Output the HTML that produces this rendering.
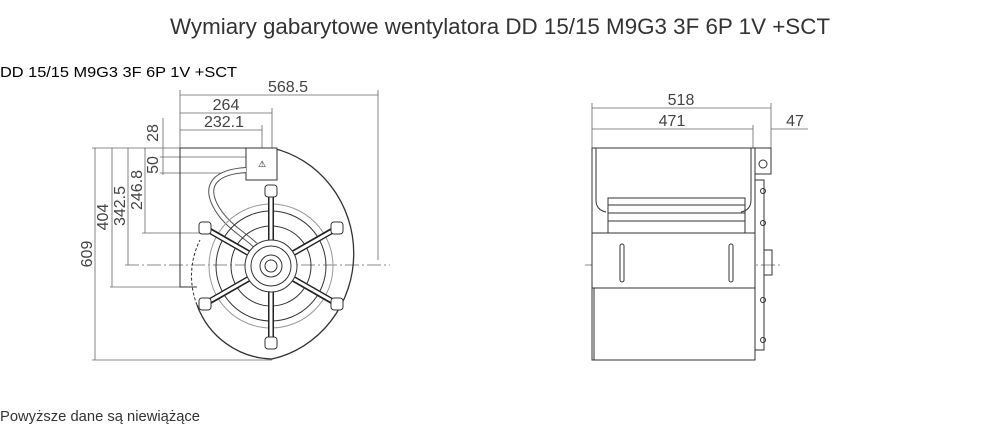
<!DOCTYPE html>
<html><head><meta charset="utf-8"><style>
body{margin:0;width:1000px;height:437px;background:#fff;overflow:hidden;font-family:"Liberation Sans",sans-serif}
</style></head><body>
<svg width="1000" height="437" xmlns="http://www.w3.org/2000/svg" font-family="Liberation Sans, sans-serif">
<text x="500" y="34" text-anchor="middle" font-size="22" fill="#333" textLength="660" lengthAdjust="spacingAndGlyphs">Wymiary gabarytowe wentylatora DD 15/15 M9G3 3F 6P 1V +SCT</text>
<text x="0" y="77" font-size="15" fill="#000" textLength="237" lengthAdjust="spacingAndGlyphs">DD 15/15 M9G3 3F 6P 1V +SCT</text>
<text x="0" y="421" font-size="15" fill="#333" textLength="200" lengthAdjust="spacingAndGlyphs">Powyższe dane są niewiążące</text>

<g stroke="#666" stroke-width="0.8" fill="none">
<line x1="180" y1="95" x2="378" y2="95"/><line x1="180" y1="113" x2="272" y2="113"/><line x1="180" y1="130" x2="262" y2="130"/>
<line x1="180" y1="90" x2="180" y2="148"/><line x1="378" y1="90" x2="378" y2="260"/>
<line x1="272" y1="108" x2="272" y2="148"/><line x1="262" y1="125" x2="262" y2="148"/>
<line x1="95" y1="148" x2="95" y2="360"/><line x1="112" y1="148" x2="112" y2="287"/>
<line x1="128" y1="148" x2="128" y2="265"/><line x1="145" y1="148" x2="145" y2="233"/>
<line x1="163" y1="118" x2="163" y2="175"/>
<line x1="92" y1="148" x2="250" y2="148"/><line x1="160" y1="157" x2="250" y2="157"/><line x1="160" y1="173" x2="250" y2="173"/>
<line x1="142" y1="233" x2="205" y2="233"/><line x1="110" y1="287" x2="180" y2="287"/><line x1="92" y1="360" x2="272" y2="360"/>
<line x1="125" y1="265" x2="390" y2="265" stroke-dasharray="14 3 2 3"/>
<line x1="592" y1="108" x2="771" y2="108"/><line x1="592" y1="129" x2="753" y2="129"/><line x1="771" y1="129" x2="808" y2="129"/>
<line x1="592" y1="103" x2="592" y2="148"/><line x1="771" y1="103" x2="771" y2="148"/><line x1="753" y1="125" x2="753" y2="148"/>
<line x1="585" y1="265" x2="780" y2="265" stroke-dasharray="14 3 2 3"/>
</g>
<g font-size="16" fill="#444">
<text x="288" y="92" text-anchor="middle">568.5</text>
<text x="226" y="110" text-anchor="middle">264</text>
<text x="224" y="127" text-anchor="middle">232.1</text>
<text x="681" y="105" text-anchor="middle">518</text>
<text x="672" y="126" text-anchor="middle">471</text>
<text x="795" y="126" text-anchor="middle">47</text>
<text transform="translate(92,254) rotate(-90)" text-anchor="middle">609</text>
<text transform="translate(108,217) rotate(-90)" text-anchor="middle">404</text>
<text transform="translate(125,206) rotate(-90)" text-anchor="middle">342.5</text>
<text transform="translate(142,190) rotate(-90)" text-anchor="middle">246.8</text>
<text transform="translate(158,133) rotate(-90)" text-anchor="middle">28</text>
<text transform="translate(158,165) rotate(-90)" text-anchor="middle">50</text>
</g>

<g stroke="#333" stroke-width="1" fill="none">
<path d="M180 148 H272 M180 148 V287 H197"/>
<path d="M272 148 A104 108 0 0 1 272 359 A82 82 0 0 1 197 305" stroke-width="1.3"/>
<path d="M197 305 A80 80 0 0 1 200 240" stroke-dasharray="3 2"/>
<rect x="246" y="148" width="31" height="32" fill="#fff"/>
<path d="M246 170 C215 172 205 185 215 205 C225 225 245 235 255 245" stroke-width="6" stroke="#555"/>
<path d="M246 170 C215 172 205 185 215 205 C225 225 245 235 255 245" stroke-width="4" stroke="#fff"/>
<circle cx="271" cy="266" r="62" stroke="#999"/>
<circle cx="271" cy="266" r="55"/>
<circle cx="271" cy="266" r="40"/>
</g>
<g stroke="#222" stroke-width="6">
<line x1="271" y1="266" x2="271" y2="191"/><line x1="271" y1="266" x2="271" y2="343"/>
<line x1="271" y1="266" x2="205" y2="228"/><line x1="271" y1="266" x2="337" y2="228"/>
<line x1="271" y1="266" x2="205" y2="304"/><line x1="271" y1="266" x2="337" y2="304"/>
</g>
<g stroke="#fff" stroke-width="3">
<line x1="271" y1="266" x2="271" y2="194"/><line x1="271" y1="266" x2="271" y2="340"/>
<line x1="271" y1="266" x2="208" y2="230"/><line x1="271" y1="266" x2="334" y2="230"/>
<line x1="271" y1="266" x2="208" y2="302"/><line x1="271" y1="266" x2="334" y2="302"/>
</g>
<g stroke="#333" fill="#fff" stroke-width="1">
<circle cx="271" cy="266" r="26"/><circle cx="271" cy="266" r="20" fill="none"/>
<circle cx="271" cy="266" r="11"/><circle cx="271" cy="266" r="6"/>
<rect x="265" y="185" width="12" height="12" rx="3"/><rect x="265" y="337" width="12" height="12" rx="3"/>
<rect x="199" y="222" width="12" height="12" rx="3"/><rect x="331" y="222" width="12" height="12" rx="3"/>
<rect x="199" y="298" width="12" height="12" rx="3"/><rect x="331" y="298" width="12" height="12" rx="3"/>
</g>
<text x="262" y="167" font-size="9" text-anchor="middle">⚠</text>

<g stroke="#333" stroke-width="1" fill="none">
<path d="M592 148 H755 V360 H592 Z"/>
<path d="M596 148 V200 Q596 210 606 212 M751 148 V200 Q751 210 741 212"/>
<rect x="608" y="198" width="137" height="35"/>
<line x1="608" y1="205" x2="745" y2="205"/><line x1="608" y1="213" x2="745" y2="213"/><line x1="608" y1="221" x2="745" y2="221"/>
<rect x="592" y="233" width="163" height="55" fill="#fff"/>
<line x1="594" y1="288" x2="594" y2="360"/>
<rect x="620" y="244" width="4" height="38" rx="2"/><rect x="729" y="244" width="4" height="38" rx="2"/>
<rect x="755" y="148" width="16" height="26"/><circle cx="763" cy="164" r="4"/>
<path d="M755 180 H764 V350 H755"/>
<rect x="764" y="250" width="8" height="25"/>
<circle cx="763" cy="191" r="2.5"/><circle cx="763" cy="223" r="2.5"/><circle cx="763" cy="300" r="2.5"/><circle cx="763" cy="340" r="2.5"/>
</g>
</svg>
</body></html>
